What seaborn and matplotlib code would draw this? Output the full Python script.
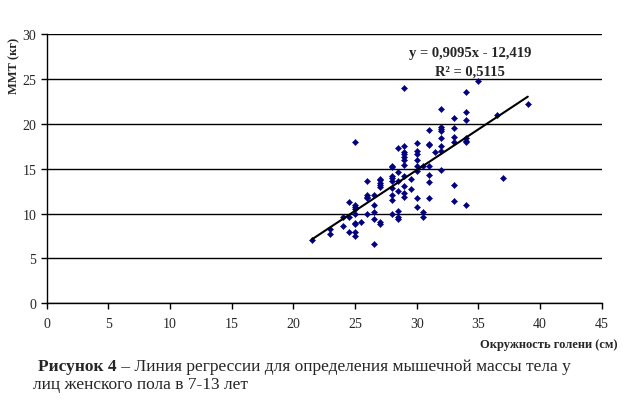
import matplotlib
matplotlib.use('Agg')
import matplotlib.pyplot as plt
import seaborn as sb
import pandas

# окружность голени (см) и ММТ (кг)
shin_cm = ([21.5] + [23.0] * 2 + [24.0] * 2 + [24.5] * 3 + [25.0] * 9 + [25.5]
           + [26.0] * 5 + [26.5] * 5 + [27.0] * 7 + [28.0] * 9 + [28.5] * 7
           + [29.0] * 11 + [29.5] * 2 + [30.0] * 8 + [30.5] * 3 + [31.0] * 7
           + [31.5] + [32.0] * 8 + [33.0] * 6 + [34.0] * 7 + [35.0] + [36.5]
           + [37.0] + [39.0])
mmt_kg = [7.1,
          8.3, 7.7,
          8.6, 9.6,
          11.3, 9.6, 8.0,
          18.0, 11.0, 10.7, 10.5, 10.0, 9.0, 8.8, 8.0, 7.5,
          9.1,
          13.6, 12.1, 11.9, 11.7, 10.0,
          12.1, 11.0, 10.2, 9.4, 6.6,
          13.9, 13.7, 13.4, 13.2, 13.0, 9.1, 8.85,
          15.35, 15.2, 14.2, 14.0, 13.6, 12.9, 12.1, 11.5, 10.0,
          17.3, 14.7, 13.6, 12.5, 10.3, 9.6, 9.4,
          24.0, 17.6, 16.9, 16.65, 16.35, 16.0, 15.4, 14.2, 13.1, 12.3, 11.9,
          13.9, 12.75,
          17.9, 16.95, 16.7, 16.0, 15.35, 14.8, 11.75, 10.7,
          15.35, 10.2, 9.6,
          19.3, 17.8, 17.7, 15.35, 14.3, 13.5, 11.7,
          16.9,
          21.7, 19.7, 19.4, 19.2, 18.4, 17.6, 16.95, 14.9,
          20.7, 19.6, 18.5, 18.0, 13.2, 11.4,
          23.6, 21.3, 20.4, 18.4, 18.1, 17.95, 11.0,
          24.8,
          21.0,
          13.95,
          22.2]

slope = 0.9095
intercept = -12.419
line_x = [21.5, 39.0]
line_y = [slope * v + intercept for v in line_x]

x_ticks = [0, 5, 10, 15, 20, 25, 30, 35, 40, 45]
y_ticks = [0, 5, 10, 15, 20, 25, 30]

df = pandas.DataFrame({'shin': shin_cm, 'mmt': mmt_kg})

sb.set_style("white")
plt.rcParams['font.family'] = ['Liberation Serif', 'DejaVu Serif']

fig = plt.figure(figsize=(6.23, 4.02), dpi=100)
ax = fig.add_axes([0.075, 0.243, 0.891, 0.669])

ax.set_axisbelow(True)
ax.yaxis.grid(True, color='black', linewidth=1.0)
ax.xaxis.grid(False)

sb.scatterplot(data=df, x='shin', y='mmt', ax=ax, marker='D', s=10,
               color='#000080', edgecolor='#000080', linewidth=0.3, zorder=3)
ax.plot(line_x, line_y, color='black', linewidth=1.5, zorder=4)

ax.set_xlim(0, 45)
ax.set_ylim(0, 30)
ax.set_xticks(x_ticks)
ax.set_yticks(y_ticks)
ax.tick_params(axis='both', direction='out', length=4, width=1, color='black',
               labelsize=10, left=True, bottom=True)
ax.tick_params(axis='x', pad=6)
for side in ['top', 'right']:
    ax.spines[side].set_visible(False)
for side in ['left', 'bottom']:
    ax.spines[side].set_color('black')
    ax.spines[side].set_linewidth(1)

ax.set_xlabel('')
ax.set_ylabel('')

ax.text(34.3, 28.0, 'y = 0,9095x - 12,419', ha='center', va='center',
        fontsize=10.5, fontweight='bold')
ax.text(34.3, 25.9, 'R² = 0,5115', ha='center', va='center',
        fontsize=10.5, fontweight='bold')

fig.text(14 / 623, 1 - 66 / 402, 'ММТ (кг)', rotation=90, ha='center',
         va='center', fontsize=9, fontweight='bold')
fig.text(617 / 623, 1 - 345 / 402, 'Окружность голени (см)', ha='right',
         va='center', fontsize=9, fontweight='bold')

bold = fig.text(38 / 623, 1 - 367 / 402, 'Рисунок 4', ha='left', va='center',
                fontsize=12.5, fontweight='bold')
ax.annotate(' – Линия регрессии для определения мышечной массы тела у',
            xy=(1, 0), xycoords=bold, ha='left', va='bottom', fontsize=12.5)
fig.text(33 / 623, 1 - 385 / 402, 'лиц женского пола в 7-13 лет', ha='left',
         va='center', fontsize=12.5)

fig.savefig('out.png', dpi=100)
plt.close(fig)
